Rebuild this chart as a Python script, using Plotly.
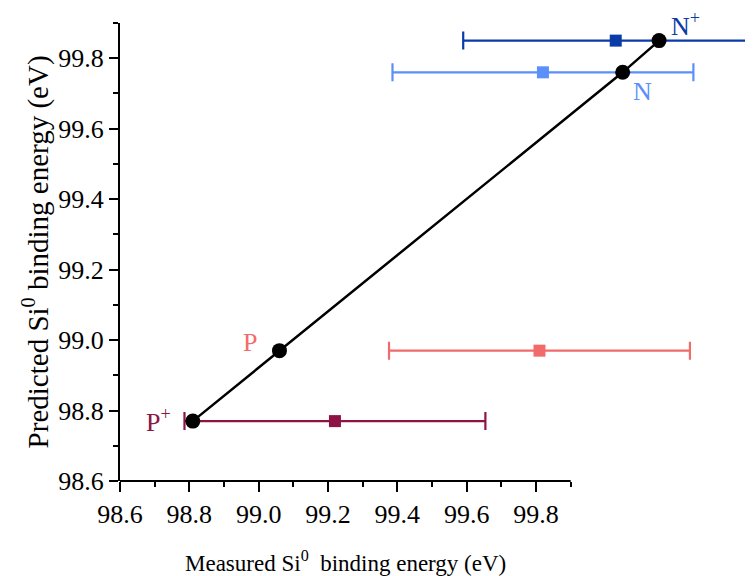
import plotly.graph_objects as go

# ---- data ----
labels = ["P<sup>+</sup>", "P", "N", "N<sup>+</sup>"]
predicted_y = [98.77, 98.97, 99.76, 99.85]        # predicted Si0 BE (black points, y)
predicted_x = [98.81, 99.06, 100.05, 100.155]     # black points, x position
measured = [99.22, 99.81, 99.82, 100.03]          # measured Si0 BE (squares)
measured_err = [0.434, 0.434, 0.434, 0.44]        # horizontal error
colors = ["#8E1445", "#F26B6B", "#5B8FF9", "#0B3BA6"]

x_major = [98.6, 98.8, 99.0, 99.2, 99.4, 99.6, 99.8]
x_minor = [98.7, 98.9, 99.1, 99.3, 99.5, 99.7, 99.9]
y_major = [98.6, 98.8, 99.0, 99.2, 99.4, 99.6, 99.8]
y_minor = [98.7, 98.9, 99.1, 99.3, 99.5, 99.7, 99.9]

# label anchor positions (data coords)
label_x = [98.712, 98.975, 100.106, 100.23]
label_y = [98.773, 98.994, 99.706, 99.895]

FONT = "Liberation Serif"

fig = go.Figure()

for i in range(len(labels)):
    fig.add_trace(go.Scatter(
        x=[measured[i]], y=[predicted_y[i]],
        mode="markers",
        marker=dict(symbol="square", size=12, color=colors[i]),
        error_x=dict(type="data", array=[measured_err[i]], color=colors[i],
                     thickness=2.2, width=9),
        showlegend=False, hoverinfo="skip",
    ))

fig.add_trace(go.Scatter(
    x=predicted_x, y=predicted_y, mode="lines+markers",
    line=dict(color="black", width=2.5),
    marker=dict(symbol="circle", size=15, color="black"),
    showlegend=False, hoverinfo="skip",
))

for i in range(len(labels)):
    fig.add_annotation(x=label_x[i], y=label_y[i], text=labels[i], showarrow=False,
                       font=dict(family=FONT, size=26, color=colors[i]),
                       xanchor="center", yanchor="middle")

# axis titles
fig.add_annotation(x=(x_major[0] + x_minor[-1]) / 2, xref="x", y=-0.1747, yref="paper",
                   text="Measured Si<sup>0</sup>  binding energy (eV)", showarrow=False,
                   font=dict(family=FONT, size=23, color="black"),
                   xanchor="center", yanchor="middle")
fig.add_annotation(x=-0.132, xref="paper", y=0.5, yref="paper", textangle=-90,
                   text="Predicted Si<sup>0</sup> binding energy (eV)", showarrow=False,
                   font=dict(family=FONT, size=29, color="black"),
                   xanchor="center", yanchor="middle")

# x-axis line only spans 98.6 .. 99.9
fig.add_shape(type="line", xref="x", yref="paper", x0=x_major[0], x1=x_minor[-1],
              y0=0, y1=0, line=dict(color="black", width=2.2), layer="above")

fig.update_layout(
    width=753, height=576,
    margin=dict(l=112, r=0, t=15, b=103, autoexpand=False),
    paper_bgcolor="white", plot_bgcolor="white",
    font=dict(family=FONT, size=26, color="black"),
    xaxis=dict(
        range=[98.6, 100.449], showgrid=False, zeroline=False, showline=False,
        tickmode="array", tickvals=x_major, ticktext=[f"{v:.1f}" for v in x_major],
        ticks="outside", ticklen=10, tickwidth=1.8, tickcolor="black",
        minor=dict(tickmode="array", tickvals=x_minor, ticks="outside", ticklen=5,
                   tickwidth=1.8, tickcolor="black", showgrid=False),
        tickfont=dict(family=FONT, size=26, color="black"),
        automargin=False,
    ),
    yaxis=dict(
        range=[98.6, 99.9], showgrid=False, zeroline=False, showline=True,
        linecolor="black", linewidth=2.2,
        tickmode="array", tickvals=y_major, ticktext=[f"{v:.1f}" for v in y_major],
        ticks="outside", ticklen=9, tickwidth=1.8, tickcolor="black",
        minor=dict(tickmode="array", tickvals=y_minor, ticks="outside", ticklen=5,
                   tickwidth=1.8, tickcolor="black", showgrid=False),
        tickfont=dict(family=FONT, size=26, color="black"),
        automargin=False,
    ),
)

fig.write_html("out.html")
